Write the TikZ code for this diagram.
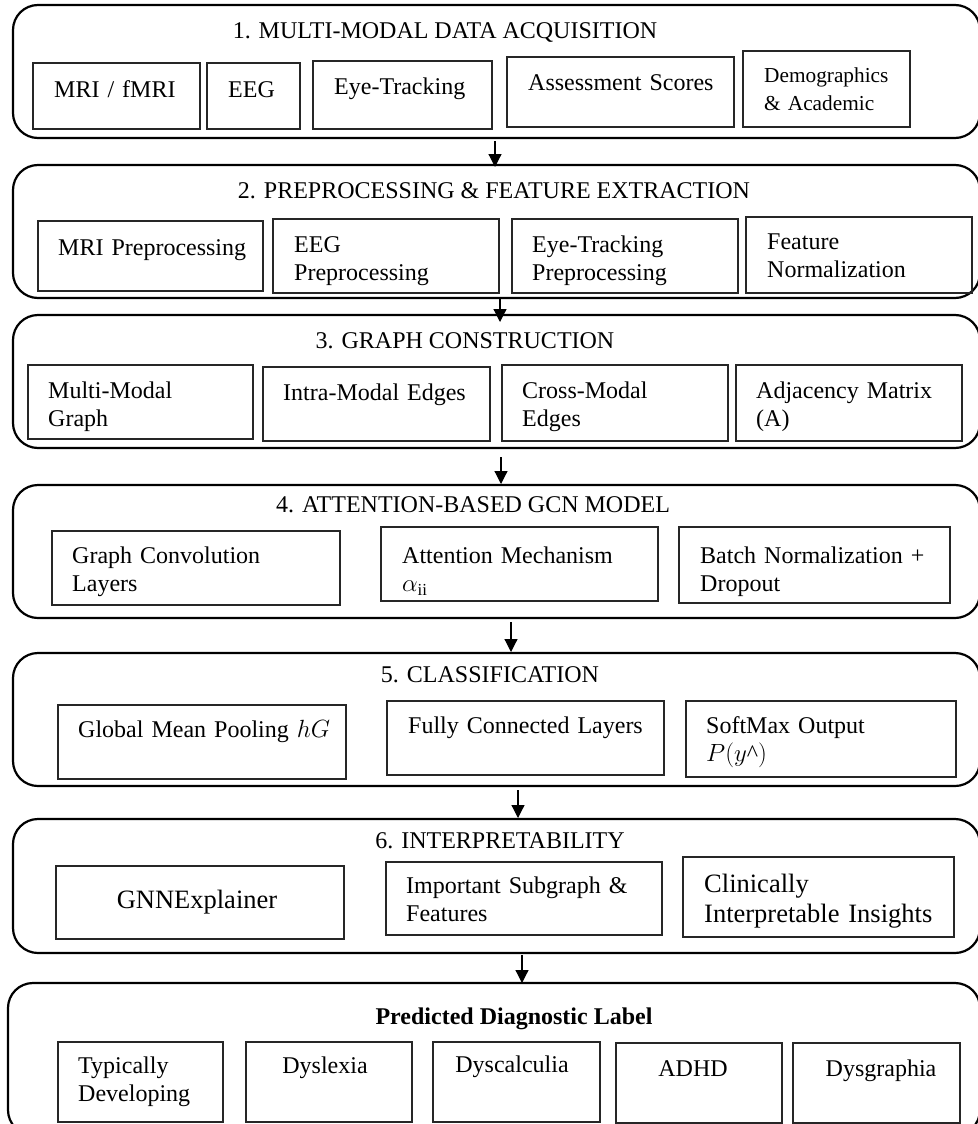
\documentclass[tikz,border=0pt]{standalone}
\usepackage{fontspec}
\setmainfont{Liberation Serif}
\usetikzlibrary{arrows.meta}

\begin{document}
\begin{tikzpicture}[x=1pt,y=-1pt]
            \tikzstyle{stage}=[rectangle, rounded corners=25pt, draw=black, line width=2.2pt, anchor=north west, inner sep=0pt, outer sep=0pt, minimum width=967pt, minimum height=133pt]
            \tikzstyle{unitbox}=[rectangle, draw=black!85, line width=1.1pt, anchor=north west, inner sep=0pt, outer sep=0pt]
            \tikzstyle{head}=[anchor=base, inner sep=0pt, font=\fontsize{24}{28.5}\selectfont]
            \tikzstyle{txt}=[anchor=base west, inner sep=0pt, text width=300pt, align=left, font=\fontsize{24}{28.5}\selectfont]
            \tikzstyle{ctxt}=[anchor=base, inner sep=0pt, font=\fontsize{24}{28.5}\selectfont]
            \tikzstyle{flow}=[line width=1.2pt, -{Triangle[length=13pt,width=13pt]}]
            \useasboundingbox (0,0) rectangle (977,1124);

            % stage frames
            \node[stage] (s1) at (13,5){};
            \node[stage] (s2) at (13,165){};
            \node[stage] (s3) at (13,315){};
            \node[stage] (s4) at (13,485){};
            \node[stage] (s5) at (13,653){};
            \node[stage, minimum height=134pt] (s6) at (13,819){};
            \node[stage, minimum width=972pt, minimum height=152pt] (s7) at (8,983){};

            \node[head] (h1) at (445,39){1. MULTI-MODAL DATA ACQUISITION};
            \node[head] (h2) at (494,198){2. PREPROCESSING \& FEATURE EXTRACTION};
            \node[head] (h3) at (465,348){3. GRAPH CONSTRUCTION};
            \node[head] (h4) at (473,512){4. ATTENTION-BASED GCN MODEL};
            \node[head] (h5) at (490,682){5. CLASSIFICATION};
            \node[head] (h6) at (500,848){6. INTERPRETABILITY};
            \node[head, font=\fontsize{24}{28.5}\selectfont\bfseries] (h7) at (514,1024){Predicted Diagnostic Label};

            % 1. acquisition
            \node[unitbox, minimum width=167pt, minimum height=66pt] (mri) at (33,63){};
            \node[txt] (mri-t) at (54,97){MRI / fMRI};
            \node[unitbox, minimum width=93pt, minimum height=66pt] (eeg) at (207,63){};
            \node[txt] (eeg-t) at (228,97){EEG};
            \node[unitbox, minimum width=179pt, minimum height=68pt] (eye) at (313,61){};
            \node[txt] (eye-t) at (334,95){Eye-Tracking};
            \node[unitbox, minimum width=227pt, minimum height=70pt] (assess) at (507,57){};
            \node[txt] (assess-t) at (528,90){Assessment Scores};
            \node[unitbox, minimum width=167pt, minimum height=76pt] (demo) at (743,51){};
            \node[txt, font=\fontsize{21.3}{28}\selectfont] (demo-t) at (764,82){Demographics\\\& Academic};

            % 2. preprocessing
            \node[unitbox, minimum width=225pt, minimum height=70pt] (mriprep) at (38,221){};
            \node[txt] (mriprep-t) at (58,255){MRI Preprocessing};
            \node[unitbox, minimum width=226pt, minimum height=74pt] (eegprep) at (273,219){};
            \node[txt] (eegprep-t) at (294,252){EEG\\Preprocessing};
            \node[unitbox, minimum width=226pt, minimum height=74pt] (eyeprep) at (512,219){};
            \node[txt] (eyeprep-t) at (532,252){Eye-Tracking\\Preprocessing};
            \node[unitbox, minimum width=226pt, minimum height=76pt] (featnorm) at (746,217){};
            \node[txt] (featnorm-t) at (767,249){Feature\\Normalization};

            % 3. graph
            \node[unitbox, minimum width=225pt, minimum height=74pt] (mmgraph) at (28,365){};
            \node[txt] (mmgraph-t) at (48,398){Multi-Modal\\Graph};
            \node[unitbox, minimum width=227pt, minimum height=74pt] (intra) at (263,367){};
            \node[txt] (intra-t) at (283,400){Intra-Modal Edges};
            \node[unitbox, minimum width=226pt, minimum height=76pt] (cross) at (502,365){};
            \node[txt] (cross-t) at (522,398){Cross-Modal\\Edges};
            \node[unitbox, minimum width=226pt, minimum height=76pt] (adj) at (736,365){};
            \node[txt] (adj-t) at (756,398){Adjacency Matrix\\(A)};

            % 4. model
            \node[unitbox, minimum width=288pt, minimum height=74pt] (gconv) at (52,531){};
            \node[txt] (gconv-t) at (72,563){Graph Convolution\\Layers};
            \node[unitbox, minimum width=277pt, minimum height=74pt] (attn) at (381,527){};
            \node[txt] (attn-t) at (402,563){Attention Mechanism\\$\alpha_{\mathrm{ii}}$};
            \node[unitbox, minimum width=271pt, minimum height=76pt] (bnorm) at (679,527){};
            \node[txt] (bnorm-t) at (700,563){Batch Normalization +\\Dropout};

            % 5. classification
            \node[unitbox, minimum width=288pt, minimum height=74pt] (pool) at (58,705){};
            \node[txt] (pool-t) at (78,737){Global Mean Pooling $hG$};
            \node[unitbox, minimum width=277pt, minimum height=74pt] (fc) at (387,701){};
            \node[txt] (fc-t) at (408,733){Fully Connected Layers};
            \node[unitbox, minimum width=270pt, minimum height=76pt] (softmax) at (686,701){};
            \node[txt] (softmax-t) at (706,733){SoftMax Output\\$P(y$\textasciicircum$)$};

            % 6. interpretability
            \node[unitbox, minimum width=288pt, minimum height=73pt] (gnnexp) at (56,866){};
            \node[ctxt, font=\fontsize{26.5}{30}\selectfont] (gnnexp-t) at (197,908){GNNExplainer};
            \node[unitbox, minimum width=276pt, minimum height=73pt] (important) at (386,862){};
            \node[txt] (important-t) at (406,893){Important Subgraph \&\\Features};
            \node[unitbox, minimum width=271pt, minimum height=80pt] (clinical) at (683,857){};
            \node[txt, font=\fontsize{26.5}{30}\selectfont] (clinical-t) at (704,892){Clinically\\Interpretable Insights};

            % predicted label
            \node[unitbox, minimum width=165pt, minimum height=80pt] (typical) at (58,1042){};
            \node[txt] (typical-t) at (78,1073){Typically\\Developing};
            \node[unitbox, minimum width=166pt, minimum height=80pt] (dyslexia) at (246,1042){};
            \node[ctxt] (dyslexia-t) at (325,1073){Dyslexia};
            \node[unitbox, minimum width=167pt, minimum height=80pt] (dyscalc) at (433,1042){};
            \node[ctxt] (dyscalc-t) at (512,1072){Dyscalculia};
            \node[unitbox, minimum width=166pt, minimum height=80pt] (adhd) at (616,1043){};
            \node[ctxt] (adhd-t) at (693,1076){ADHD};
            \node[unitbox, minimum width=167pt, minimum height=80pt] (dysgraph) at (793,1043){};
            \node[ctxt] (dysgraph-t) at (881,1076){Dysgraphia};

            \path ([xshift=-1.5pt,yshift=-3pt]s1.south) edge [flow] ([xshift=-1.5pt,yshift=-2pt]s2.north);
            \path ([xshift=3.5pt,yshift=-1pt]s2.south) edge [flow] ([xshift=3.5pt,yshift=-7pt]s3.north);
            \path ([xshift=4.5pt,yshift=-9pt]s3.south) edge [flow] ([xshift=4.5pt,yshift=1pt]s4.north);
            \path ([xshift=14.5pt,yshift=-4pt]s4.south) edge [flow] ([xshift=14.5pt,yshift=1pt]s5.north);
            \path ([xshift=21.5pt,yshift=-4pt]s5.south) edge [flow] ([xshift=21.5pt,yshift=1pt]s6.north);
            \path ([xshift=25.5pt,yshift=-2pt]s6.south) edge [flow] ([xshift=28pt]s7.north);

        \end{tikzpicture}
\end{document}
